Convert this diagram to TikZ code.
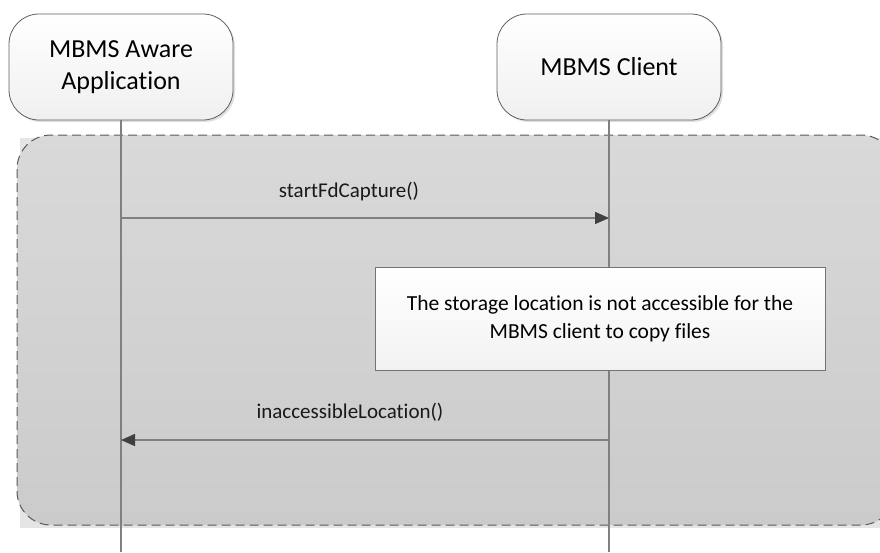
\documentclass[tikz,border=0pt]{standalone}
\usepackage{fontspec}
\setmainfont{Carlito}[Ligatures=NoCommon]
\usetikzlibrary{arrows.meta,shadows}
\definecolor{linegray}{HTML}{808080}
\definecolor{edgegray}{HTML}{5F5F5F}
\definecolor{grptop}{HTML}{D9D9D9}
\definecolor{grpbot}{HTML}{CBCBCB}
\begin{document}
\begin{tikzpicture}[x=1pt,y=-1pt,
  actor/.style={draw=edgegray, line width=0.8pt, rounded corners=30pt,
    minimum width=224pt, minimum height=106pt, align=center,
    top color=white, bottom color=black!6, font=\fontsize{26}{32}\selectfont,
    drop shadow={shadow xshift=2pt, shadow yshift=-2pt, fill=black!12, opacity=1}},
  lifeline/.style={draw=linegray, line width=1.2pt},
  msg/.style={draw=linegray, line width=1.5pt, -{Triangle[length=14pt,width=12pt,fill=black!75,color=black!75]}},
  lbl/.style={font=\fontsize{21}{25}\selectfont, text=black!90},
  notebox/.style={draw=black!55, line width=0.8pt, top color=white, bottom color=black!5,
    minimum width=450pt, minimum height=103pt, align=center, font=\fontsize{21.5}{28}\selectfont}
]
\useasboundingbox (0,0) rectangle (880,552);
\clip (0,0) rectangle (880,552);
% group frame
\fill[black!10] (20,138) rectangle (898,528);
\draw[dashed, dash pattern=on 9pt off 5pt, draw=black!65, line width=1pt,
  top color=grptop, bottom color=grpbot, rounded corners=34pt]
  (17,135) rectangle (895,525);
% actors
\node[actor] (app) at (121,67) {MBMS Aware\\Application};
\node[actor] (cli) at (609,67) {MBMS Client};
\coordinate (appEnd) at (121,552);
\coordinate (cliEnd) at (609,552);
\draw[lifeline] (app.south) -- (appEnd);
\draw[lifeline] (cli.south) -- (cliEnd);
% note
\node[notebox] (note) at (600,318.5) {The storage location is not accessible for the\\MBMS client to copy files};
% messages
\coordinate (m1s) at (121,218);
\coordinate (m1e) at (609,218);
\coordinate (m2s) at (609,440);
\coordinate (m2e) at (121,440);
\draw[msg] (m1s) -- (m1e);
\draw[msg] (m2s) -- (m2e);
\node[lbl] (l1) at (349,192) {startFdCapture()};
\node[lbl] (l2) at (350,412) {inaccessibleLocation()};
\end{tikzpicture}
\end{document}
